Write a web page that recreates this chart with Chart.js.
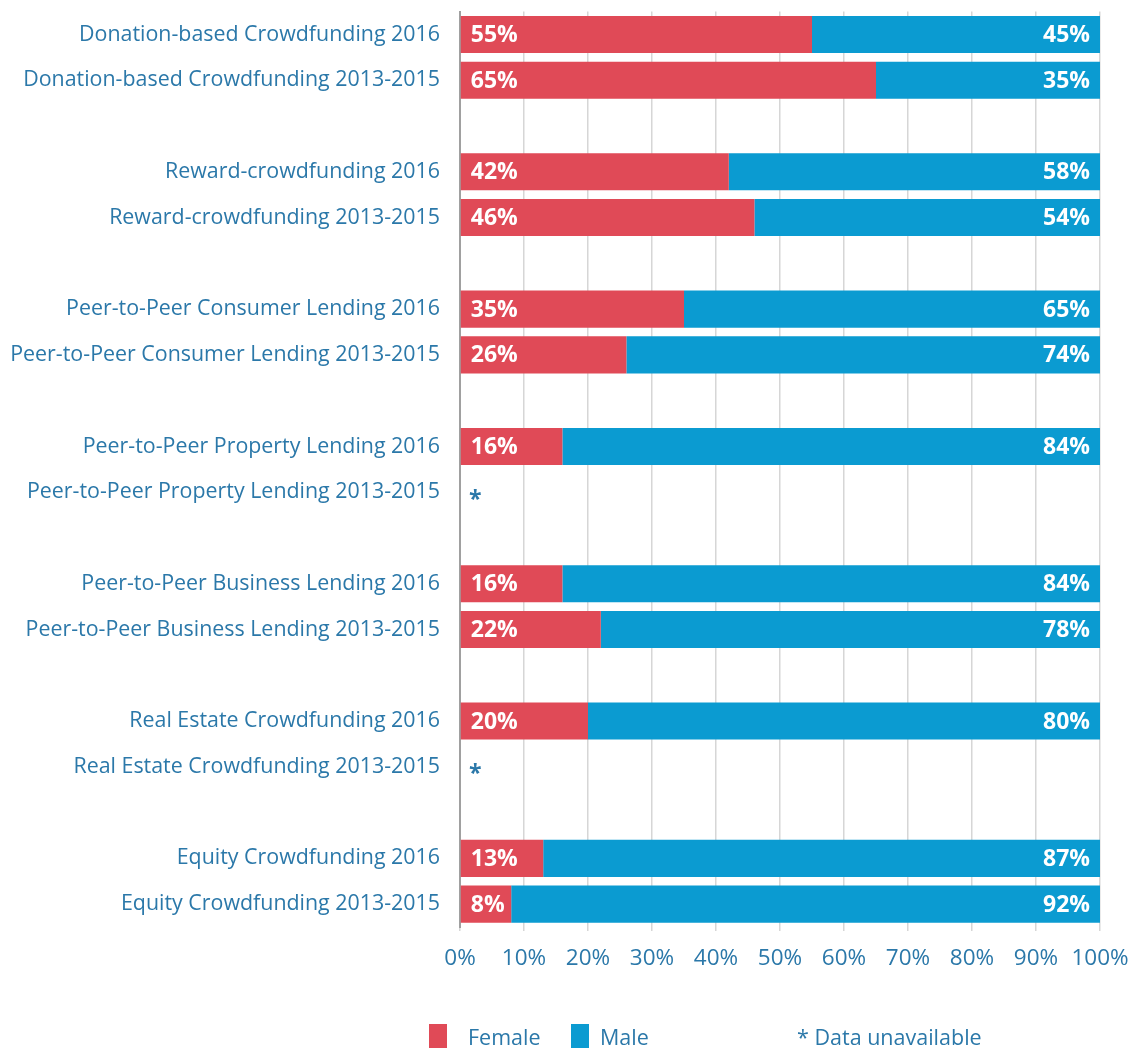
<!DOCTYPE html>
<html>
<head>
<meta charset="utf-8">
<script src="https://cdn.jsdelivr.net/npm/chart.js@4/dist/chart.umd.min.js"></script>
<style>
html,body{margin:0;padding:0;background:#fff;}
#wrap{position:relative;width:1132px;height:1048px;}
</style>
</head>
<body>
<div id="wrap"><canvas id="c" width="1132" height="1048"></canvas></div>
<script>
const categories = [
  "Donation-based Crowdfunding 2016",
  "Donation-based Crowdfunding 2013-2015",
  "",
  "Reward-crowdfunding 2016",
  "Reward-crowdfunding 2013-2015",
  "",
  "Peer-to-Peer Consumer Lending 2016",
  "Peer-to-Peer Consumer Lending 2013-2015",
  "",
  "Peer-to-Peer Property Lending 2016",
  "Peer-to-Peer Property Lending 2013-2015",
  "",
  "Peer-to-Peer Business Lending 2016",
  "Peer-to-Peer Business Lending 2013-2015",
  "",
  "Real Estate Crowdfunding 2016",
  "Real Estate Crowdfunding 2013-2015",
  "",
  "Equity Crowdfunding 2016",
  "Equity Crowdfunding 2013-2015"
];
const female = [55,65,null,42,46,null,35,26,null,16,null,null,16,22,null,20,null,null,13,8];
const male   = [45,35,null,58,54,null,65,74,null,84,null,null,84,78,null,80,null,null,87,92];
const xTicks = [0,10,20,30,40,50,60,70,80,90,100];
const legendItems = ["Female","Male","* Data unavailable"];

const FONT = "'Open Sans', sans-serif";
const TEXT = '#2b78a9';
const RED = '#e04a57';
const BLUE = '#0b9bd1';

const labelPlugin = {
  id: 'labels',
  afterDatasetsDraw(chart) {
    const ctx = chart.ctx;
    const yS = chart.scales.y;
    ctx.save();
    ctx.font = "bold 23px " + FONT;
    ctx.textBaseline = 'middle';
    const m0 = chart.getDatasetMeta(0), m1 = chart.getDatasetMeta(1);
    categories.forEach((c, i) => {
      const y = yS.getPixelForValue(i) + 1;
      if (female[i] != null) {
        const b = m0.data[i];
        ctx.fillStyle = '#fff';
        ctx.textAlign = 'left';
        ctx.fillText(female[i] + '%', b.base + 10, y);
      }
      if (male[i] != null) {
        const b = m1.data[i];
        ctx.fillStyle = '#fff';
        ctx.textAlign = 'right';
        ctx.fillText(male[i] + '%', b.x - 10, y);
      }
      if (c !== '' && female[i] == null && male[i] == null) {
        ctx.fillStyle = TEXT;
        ctx.textAlign = 'left';
        ctx.fillText('*', chart.chartArea.left + 9, y + 7);
      }
    });
    ctx.restore();
  },
  afterDraw(chart) {
    const ctx = chart.ctx;
    ctx.save();
    ctx.font = "21.5px " + FONT;
    ctx.textBaseline = 'middle';
    ctx.textAlign = 'left';
    const ly = 1039;
    ctx.fillStyle = RED; ctx.fillRect(429, 1024, 18, 24);
    ctx.fillStyle = TEXT; ctx.fillText(legendItems[0], 468, ly);
    ctx.fillStyle = BLUE; ctx.fillRect(571, 1024, 18, 24);
    ctx.fillStyle = TEXT; ctx.fillText(legendItems[1], 600, ly);
    ctx.fillText(legendItems[2], 797, ly);
    ctx.restore();
  }
};

new Chart(document.getElementById('c'), {
  type: 'bar',
  data: {
    labels: categories,
    datasets: [
      {label: 'Female', data: female, backgroundColor: RED, barPercentage: 0.81, categoryPercentage: 1},
      {label: 'Male', data: male, backgroundColor: BLUE, barPercentage: 0.81, categoryPercentage: 1}
    ]
  },
  options: {
    indexAxis: 'y',
    responsive: false,
    animation: false,
    layout: {padding: {top: 11.6, right: 32, left: 0, bottom: 0}},
    plugins: {legend: {display: false}, tooltip: {enabled: false}},
    scales: {
      x: {
        stacked: true,
        min: 0, max: 100,
        afterBuildTicks(s) { s.ticks = xTicks.map(v => ({value: v})); },
        afterFit(s) { s.height = 1048 - 927; s.paddingLeft = 0; s.paddingRight = 0; },
        ticks: {
          callback: v => v + '%',
          color: TEXT,
          font: {family: FONT, size: 22.5},
          padding: 14,
          maxRotation: 0
        },
        grid: {color: '#d6d6d6', lineWidth: 1.5, tickLength: 4, drawTicks: true},
        border: {display: false}
      },
      y: {
        stacked: true,
        afterFit(s) { s.width = 460; s.paddingTop = 0; s.paddingBottom = 0; },
        ticks: {
          color: TEXT,
          font: {family: FONT, size: 21.4},
          padding: 20,
          autoSkip: false
        },
        grid: {display: false, drawTicks: false, tickLength: 0},
        border: {display: true, color: '#a0a0a0', width: 2}
      }
    }
  },
  plugins: [labelPlugin]
});
</script>
</body>
</html>
